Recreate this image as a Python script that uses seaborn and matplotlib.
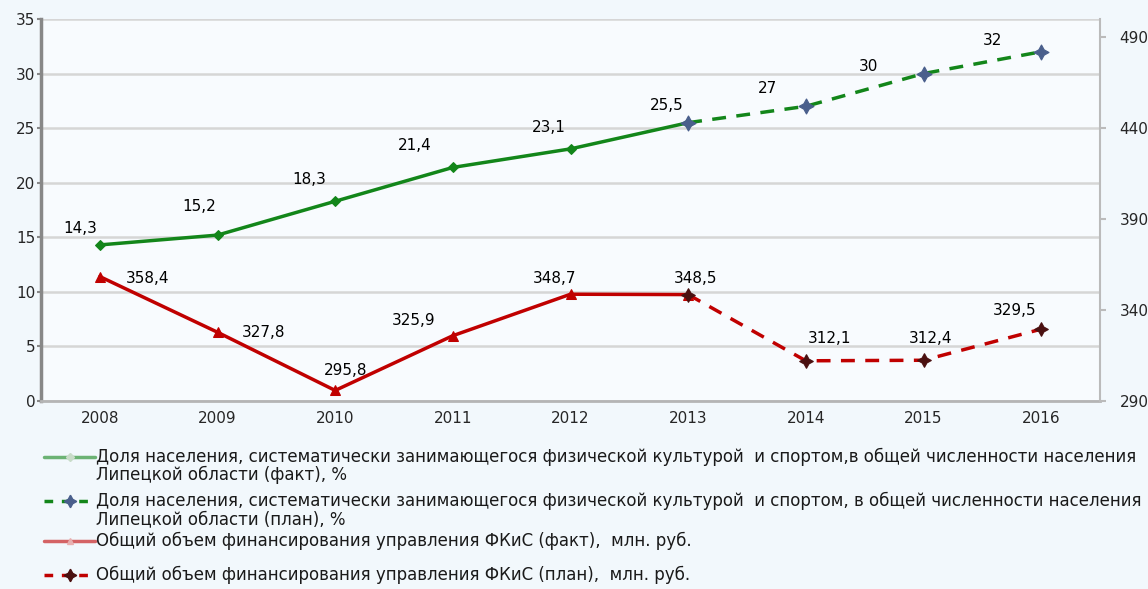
import numpy as np
import pandas as pd
import matplotlib
matplotlib.use("Agg")
import matplotlib.pyplot as plt
from matplotlib.lines import Line2D
import seaborn as sns

# --- data ---
years = ["2008", "2009", "2010", "2011", "2012", "2013", "2014", "2015", "2016"]

share_fact = [14.3, 15.2, 18.3, 21.4, 23.1, 25.5]          # 2008-2013
share_plan = [25.5, 27, 30, 32]                            # 2013-2016
funding_fact = [358.4, 327.8, 295.8, 325.9, 348.7, 348.5]  # 2008-2013
funding_plan = [348.5, 312.1, 312.4, 329.5]                # 2013-2016

legend_labels = [
    "Доля населения, систематически занимающегося физической культурой  и спортом,в общей численности населения\nЛипецкой области (факт), %",
    "Доля населения, систематически занимающегося физической культурой  и спортом, в общей численности населения\nЛипецкой области (план), %",
    "Общий объем финансирования управления ФКиС (факт),  млн. руб.",
    "Общий объем финансирования управления ФКиС (план),  млн. руб.",
]

GREEN = "#13861a"
RED = "#c00000"
STAR = (4, 1, 0)
W, H = 1148, 589

sns.set_theme(style="white")
plt.rcParams["font.family"] = ["DejaVu Sans"]

fig = plt.figure(figsize=(W / 100, H / 100), dpi=100, facecolor="#f2f8fc")
ax = fig.add_axes([41 / W, 1 - 401 / H, (1100 - 41) / W, (401 - 19) / H])
ax.set_facecolor("#f8fbfe")
ax2 = ax.twinx()

fact_df = pd.DataFrame({"x": np.arange(len(share_fact)), "share": share_fact, "funding": funding_fact})
plan_df = pd.DataFrame({"x": np.arange(len(share_plan)) + len(share_fact) - 1,
                        "share": share_plan, "funding": funding_plan})

sns.lineplot(data=fact_df, x="x", y="share", ax=ax, color=GREEN, lw=2.5,
             marker="D", markersize=5, markeredgecolor=GREEN)
sns.lineplot(data=plan_df, x="x", y="share", ax=ax, color=GREEN, lw=2.5,
             linestyle=(0, (4, 3)), marker=STAR, markersize=11,
             markerfacecolor="#4a5f8c", markeredgecolor="#4a5f8c")
sns.lineplot(data=fact_df, x="x", y="funding", ax=ax2, color=RED, lw=2.5,
             marker="^", markersize=7, markeredgecolor=RED)
sns.lineplot(data=plan_df, x="x", y="funding", ax=ax2, color=RED, lw=2.5,
             linestyle=(0, (4, 3)), marker=STAR, markersize=10,
             markerfacecolor="#4a1010", markeredgecolor="#4a1010")


def fmt(v):
    return f"{v:g}".replace(".", ",")


# label offsets in pixels (dx, dy)
share_offsets = [(-20, 16), (-18, 29), (-26, 22), (-38, 22), (-22, 21), (-21, 17),
                 (-38, 18), (-55, 7), (-49, 11)]
funding_offsets = [(48, -2), (46, 0), (10, 20), (-39, 15), (-16, 16), (7, 16),
                   (24, 22), (7, 22), (-27, 19)]

share_all = share_fact + share_plan[1:]
funding_all = funding_fact + funding_plan[1:]
for i, v in enumerate(share_all):
    ax.annotate(fmt(v), (i, v), xytext=share_offsets[i], textcoords="offset pixels",
                ha="center", va="center", fontsize=11, color="black")
for i, v in enumerate(funding_all):
    ax2.annotate(fmt(v), (i, v), xytext=funding_offsets[i], textcoords="offset pixels",
                 ha="center", va="center", fontsize=11, color="black")

# axes
ax.set_xlim(-0.5, len(years) - 0.5)
ax.set_ylim(0, 35)
ax.set_yticks(range(0, 36, 5))
ax2.set_ylim(290, 500)
ax2.set_yticks(range(290, 491, 50))
ax.set_xticks(range(len(years)))
ax.set_xticklabels(years)
ax.set_xticks(np.arange(-0.5, len(years), 1), minor=True)
ax.tick_params(axis="x", which="major", length=0, pad=7, labelsize=11)
ax.tick_params(axis="x", which="minor", length=5, width=1.5, color="#a0a0a0", direction="out")
ax.tick_params(axis="y", length=3, width=1.5, color="#888888", labelsize=11, pad=1)
ax2.tick_params(axis="y", length=4, width=1.5, color="#bbbbbb", labelsize=11, pad=10)
ax.set_xlabel("")
ax.set_ylabel("")
ax2.set_ylabel("")

ax.yaxis.grid(True, color="#d6d6d6", lw=1.8)
ax.set_axisbelow(True)
for a in (ax, ax2):
    a.spines["top"].set_visible(False)
ax.spines["left"].set_color("#888888")
ax.spines["left"].set_linewidth(2.5)
ax.spines["bottom"].set_color("#b5b5b5")
ax.spines["bottom"].set_linewidth(2)
ax2.spines["right"].set_color("#bbbbbb")
ax2.spines["right"].set_linewidth(1.5)
ax2.spines["left"].set_visible(False)
ax2.spines["bottom"].set_visible(False)

# legend, drawn row by row so the key sits on the first text line
legend_styles = [
    dict(color=GREEN, alpha=0.6, ls="-", marker="D", ms=4, mc="#c9dcc9"),
    dict(color=GREEN, alpha=1.0, ls=(0, (2.5, 2.5)), marker=STAR, ms=9, mc="#4a5f8c"),
    dict(color=RED, alpha=0.6, ls="-", marker="^", ms=4, mc="#e8b0b0"),
    dict(color=RED, alpha=1.0, ls=(0, (2.5, 2.5)), marker=STAR, ms=9, mc="#4a1010"),
]
legend_rows = [457, 501, 541, 575]
for label, st, row in zip(legend_labels, legend_styles, legend_rows):
    y = 1 - row / H
    fig.add_artist(Line2D([44 / W, 95 / W], [y, y], transform=fig.transFigure,
                          color=st["color"], alpha=st["alpha"], lw=2.5, linestyle=st["ls"]))
    fig.add_artist(Line2D([69.5 / W], [y], transform=fig.transFigure, marker=st["marker"],
                          markersize=st["ms"], markerfacecolor=st["mc"],
                          markeredgecolor=st["mc"], linestyle="none"))
    fig.text(96 / W, y + 9 / H, label, ha="left", va="top", fontsize=12,
             color="#1a1a1a", linespacing=1.0)

fig.savefig("out.png", dpi=100, facecolor=fig.get_facecolor())
